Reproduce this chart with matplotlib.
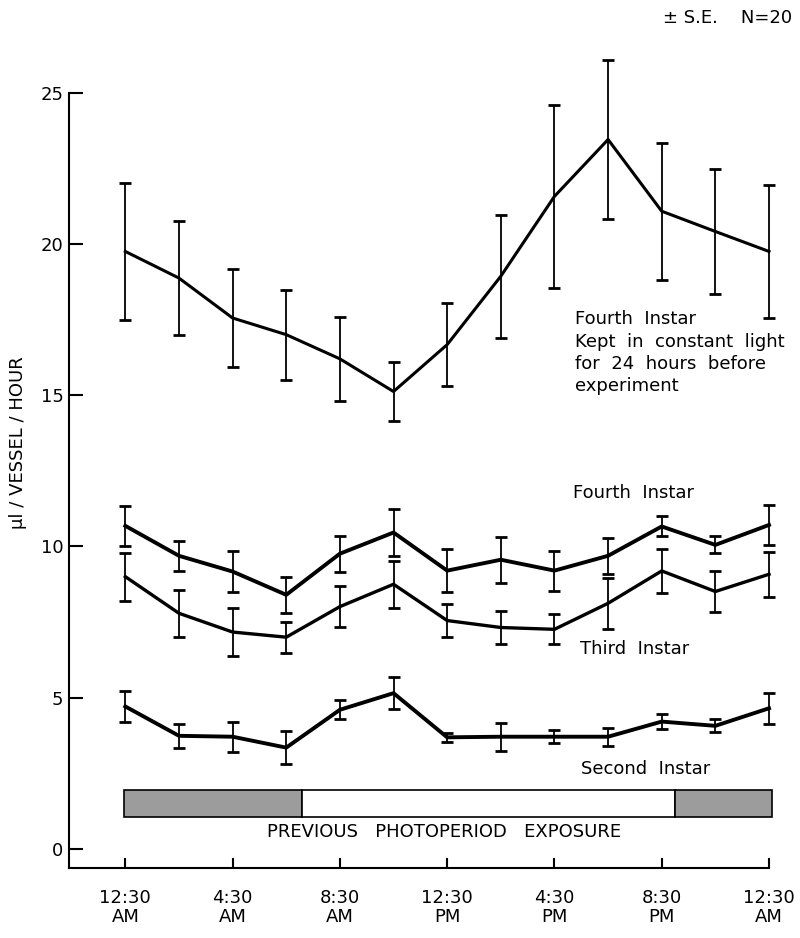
import matplotlib
matplotlib.use("Agg")
import matplotlib.pyplot as plt
from matplotlib.patches import Rectangle

# hours after 12:30 AM, one sample every 2 hours
hours = [0, 2, 4, 6, 8, 10, 12, 14, 16, 18, 20, 22, 24]

# fourth instar kept in constant light for 24 h
light_mean = [19.75, 18.87, 17.55, 17.0, 16.2, 15.12, 16.67, 18.93, 21.57, 23.45, 21.08, 20.41, 19.75]
light_se = [2.25, 1.88, 1.63, 1.49, 1.38, 0.96, 1.38, 2.03, 3.03, 2.62, 2.26, 2.08, 2.19]

fourth_mean = [10.68, 9.69, 9.17, 8.4, 9.76, 10.46, 9.2, 9.56, 9.2, 9.69, 10.66, 10.05, 10.71]
fourth_se = [0.66, 0.5, 0.68, 0.6, 0.59, 0.79, 0.7, 0.76, 0.66, 0.6, 0.33, 0.28, 0.66]

third_mean = [9.0, 7.79, 7.17, 7.0, 8.01, 8.75, 7.55, 7.32, 7.26, 8.12, 9.19, 8.51, 9.08]
third_se = [0.79, 0.77, 0.78, 0.51, 0.67, 0.78, 0.55, 0.56, 0.5, 0.84, 0.72, 0.69, 0.74]

second_mean = [4.71, 3.74, 3.71, 3.35, 4.6, 5.15, 3.69, 3.71, 3.71, 3.71, 4.21, 4.07, 4.65]
second_se = [0.51, 0.4, 0.5, 0.55, 0.32, 0.52, 0.15, 0.47, 0.22, 0.3, 0.25, 0.22, 0.52]

tick_hours = [0, 4, 8, 12, 16, 20, 24]
tick_labels = ["12:30\nAM", "4:30\nAM", "8:30\nAM", "12:30\nPM", "4:30\nPM", "8:30\nPM", "12:30\nAM"]

# previous photoperiod: dark / light / dark (hours after 12:30 AM)
light_on = 6.6
light_off = 20.5

fig = plt.figure(figsize=(8, 9.38), dpi=100)
ax = fig.add_axes([0.08625, 0.0746, 0.875, 0.9073])

eb = dict(color="black", elinewidth=1.3, capsize=4, capthick=2)
for mean, se, lw in [(light_mean, light_se, 2.2), (fourth_mean, fourth_se, 2.8),
                     (third_mean, third_se, 2.4), (second_mean, second_se, 2.8)]:
    cont = ax.errorbar(hours, mean, yerr=se, lw=lw, **eb)
    # keep the last point at the axis end fully visible
    for art in cont.get_children():
        art.set_clip_on(False)

# photoperiod bar
bar_lo, bar_h = 1.05, 0.9
segments = [(-0.05, light_on, "#9c9c9c"), (light_on, light_off, "white"), (light_off, 24.1, "#9c9c9c")]
for x0, x1, fc in segments:
    ax.add_patch(Rectangle((x0, bar_lo), x1 - x0, bar_h, facecolor=fc,
                           edgecolor="black", lw=1.2, clip_on=False))

txt = dict(fontsize=13, color="black")
ax.text(11.9, 0.55, "PREVIOUS   PHOTOPERIOD   EXPOSURE", ha="center", va="center", **txt)
ax.text(16.75, 16.4, "Fourth  Instar\nKept  in  constant  light\nfor  24  hours  before\nexperiment",
        ha="left", va="center", linespacing=1.3, **txt)
ax.text(16.7, 11.75, "Fourth  Instar", ha="left", va="center", **txt)
ax.text(16.95, 6.6, "Third  Instar", ha="left", va="center", **txt)
ax.text(17.0, 2.65, "Second  Instar", ha="left", va="center", **txt)
ax.text(22.45, 27.45, "± S.E.    N=20", ha="center", va="center", **txt)

ax.set_xlim(-2.1, 24)
ax.set_ylim(-0.63, 27.5)
ax.set_xticks(tick_hours)
ax.set_xticklabels(tick_labels, fontsize=13, linespacing=1.1)
ax.set_yticks([0, 5, 10, 15, 20, 25])
ax.tick_params(axis="y", direction="in", length=10, width=1.5, pad=4, labelsize=13)
ax.tick_params(axis="x", direction="in", length=7, width=1.5, pad=15)

for side in ["top", "right"]:
    ax.spines[side].set_visible(False)
ax.spines["left"].set_bounds(-0.63, 25)
ax.spines["left"].set_linewidth(1.5)
ax.spines["bottom"].set_linewidth(1.5)

ax.set_ylabel("μl / VESSEL / HOUR", fontsize=13, labelpad=10)

fig.savefig("out.png", dpi=100)
